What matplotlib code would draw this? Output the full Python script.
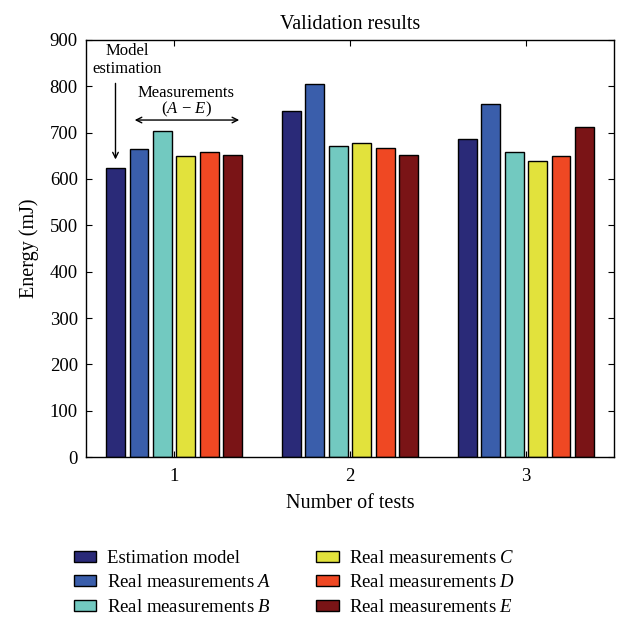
import numpy as np
import matplotlib
matplotlib.use("Agg")
import matplotlib.pyplot as plt
from matplotlib.patches import Patch

plt.rcParams['font.family'] = ['Liberation Serif', 'DejaVu Serif']
plt.rcParams['mathtext.fontset'] = 'custom'
plt.rcParams['mathtext.rm'] = 'Liberation Serif'
plt.rcParams['mathtext.it'] = 'Liberation Serif:italic'

tests = [1, 2, 3]
series_names = ["Estimation model", "Real measurements $A$", "Real measurements $B$",
                "Real measurements $C$", "Real measurements $D$", "Real measurements $E$"]
estimation = [624, 746, 686]
meas_A = [664, 805, 761]
meas_B = [703, 671, 658]
meas_C = [649, 677, 638]
meas_D = [658, 666, 649]
meas_E = [651, 651, 712]
colors = ["#2a2a78", "#3a5eab", "#72c9c0", "#e2e23c", "#ef4823", "#7a1416"]

data = [estimation, meas_A, meas_B, meas_C, meas_D, meas_E]

fig = plt.figure(figsize=(6.2, 6.22), dpi=100)
ax = fig.add_axes([0.139, 0.265, 0.851, 0.671])

n = len(data)
group_w = 0.8
pitch = group_w / n
bw = pitch * 0.8
x = np.array(tests, dtype=float)
handles = []
for i, (vals, c, name) in enumerate(zip(data, colors, series_names)):
    off = (i - (n - 1) / 2) * pitch
    ax.bar(x + off, vals, width=bw, color=c, edgecolor='black', linewidth=1.0)
    handles.append(Patch(facecolor=c, edgecolor='black', linewidth=1.0, label=name))

ax.set_xlim(0.5, 3.5)
ax.set_ylim(0, 900)
ax.set_xticks(tests)
ax.set_yticks(np.arange(0, 901, 100))
ax.tick_params(direction='in', top=True, right=True, length=4, labelsize=13.5)
ax.tick_params(axis='x', pad=8)
ax.tick_params(axis='y', pad=6)
for s in ax.spines.values():
    s.set_linewidth(1.0)

ax.set_title("Validation results", fontsize=14.5, pad=8)
ax.set_xlabel("Number of tests", fontsize=14.5, labelpad=6)
ax.set_ylabel("Energy (mJ)", fontsize=14.5, labelpad=8)

# annotations
x_est = 1 - 2.5 * pitch
ax.text(0.733, 857, "Model\nestimation", ha='center', va='center', fontsize=12,
        linespacing=1.15)
ax.annotate("", xy=(x_est, 636), xytext=(x_est, 812),
            arrowprops=dict(arrowstyle='->', color='black', lw=1.0))
ax.annotate("", xy=(0.76, 727), xytext=(1.386, 727),
            arrowprops=dict(arrowstyle='<->', color='black', lw=1.0))
ax.text(1.068, 786, "Measurements", ha='center', va='center', fontsize=12)
ax.text(1.068, 750, "$(A\\,-\\,E)$", ha='center', va='center', fontsize=12)

leg = fig.legend(handles=handles,
                 loc='upper left', bbox_to_anchor=(0.092, 0.143),
                 ncol=2, frameon=False, fontsize=13.5, handlelength=1.2, handleheight=0.55,
                 labelspacing=0.4, columnspacing=2.4, handletextpad=0.55)

fig.savefig("out.png", dpi=100)
